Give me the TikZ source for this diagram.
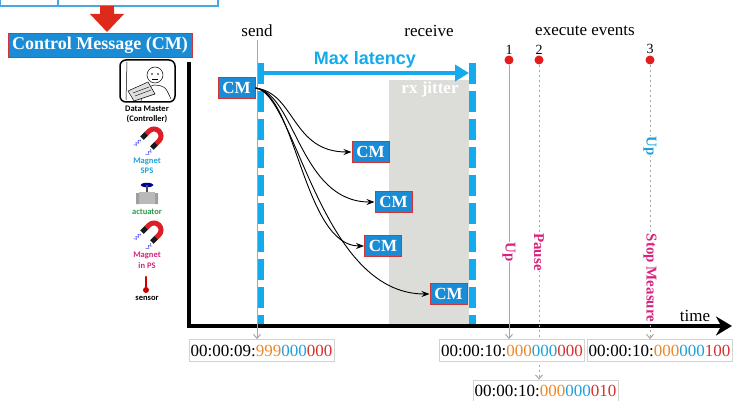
\documentclass[tikz,border=0pt]{standalone}
\usepackage{fontspec}
\setmainfont{Liberation Serif}
\newfontfamily\latfont{Liberation Sans}
\newfontfamily\iconfont{Carlito}
\usetikzlibrary{arrows.meta, decorations.pathmorphing}

\definecolor{cmblue}{RGB}{26,140,214}
\definecolor{cmred}{RGB}{208,52,52}
\definecolor{latblue}{RGB}{20,170,235}
\definecolor{jitgray}{RGB}{220,220,216}
\definecolor{evred}{RGB}{224,30,30}
\definecolor{evmag}{RGB}{214,36,124}
\definecolor{tsorange}{RGB}{232,137,43}
\definecolor{tsblue}{RGB}{30,160,220}
\definecolor{tsred}{RGB}{217,48,43}
\definecolor{actgreen}{RGB}{46,154,74}
\definecolor{topblue}{RGB}{70,168,224}
\definecolor{arrowred}{RGB}{221,42,27}
\definecolor{magred}{RGB}{220,30,40}

% time stamp: prefix, then ms / us / ns groups
\newcommand{\stamp}[4]{#1\textcolor{tsorange}{#2}\textcolor{tsblue}{#3}\textcolor{tsred}{#4}}

\begin{document}
\begin{tikzpicture}[x=1pt, y=-1pt,
    cmbox/.style={draw=cmred, line width=1pt, fill=cmblue, text=white, inner sep=0pt,
        font=\bfseries\fontsize{17}{17}\selectfont, minimum width=37, minimum height=21},
    tsbox/.style={draw=gray!35, line width=0.8pt, fill=white, inner sep=0pt,
        font=\fontsize{17}{17}\selectfont, minimum width=145, minimum height=22},
    axlabel/.style={anchor=base, inner sep=0pt, font=\fontsize{17}{17}\selectfont},
    evdot/.style={circle, fill=evred, minimum size=9, inner sep=0pt},
    evtext/.style={rotate=-90, fill=white, inner sep=0.5pt, font=\bfseries\fontsize{15}{15}\selectfont},
    iconlbl/.style={inner sep=0pt, font=\iconfont\bfseries\fontsize{8.5}{8.5}\selectfont},
    bluedash/.style={latblue, line width=7, dash pattern=on 21pt off 7pt},
    evline/.style={gray!70, line width=1, -{Straight Barb[length=4pt,width=7pt]}},
    evdots/.style={evline, dash pattern=on 2pt off 3pt},
    curve/.style={black, line width=0.9, -{Stealth[length=8pt,width=6pt]}}]
\useasboundingbox (0,0) rectangle (733,401);

% legend header and arrow down to the message box
\draw[topblue, line width=1.5] (0,-5) rectangle (218,6);
\draw[topblue, line width=1.5] (58,-5) -- (58,6);
\fill[arrowred] (100,6) -- (114,6) -- (114,14) -- (124,14) -- (107,32) -- (90,14) -- (100,14) -- cycle;
\node[draw=cmred, line width=1pt, fill=cmblue, text=white, minimum width=184, minimum height=23,
    font=\bfseries\fontsize{18}{18}\selectfont] (cmtitle) at (100,45.5) {Control Message (CM)};

% controller sketch
\draw[line width=1.5, rounded corners=6, fill=white] (120,60) rectangle (175,102);
\draw[line width=0.5] (127,62) -- (126,100);
\draw[line width=0.5] (155,75) circle (8);
\fill (152,74) circle (0.8) (158,74) circle (0.8);
\draw[line width=0.5] (152,79) -- (158,79);
\draw[line width=0.5] (141,101) .. controls (143,89) .. (154,85) .. controls (165,86) .. (171,99);
\draw[line width=0.5, fill=gray!25] (128,91) -- (148,82) -- (155,94) -- (134,101) -- cycle;
\draw[line width=0.4] (133,93) -- (149,87) (135,96) -- (151,90);
\node[iconlbl] (master) at (147,109) {Data Master};
\node[iconlbl] (ctrl) at (147,119) {(Controller)};

% magnet in SPS
\begin{scope}[shift={(154,136)}, rotate=-45]
  \draw[magred, line width=5] (-7,4) -- (-7,0) arc[start angle=180, end angle=360, radius=7] -- (7,4);
  \draw[gray!20!black, line width=5] (-7,4) -- (-7,10) (7,4) -- (7,10);
  \draw[blue!70, line width=0.6, decorate, decoration={snake, amplitude=1.2, segment length=3}]
      (-7,12) -- (-7,19) (7,12) -- (7,19);
\end{scope}
\node[iconlbl, text=tsblue] (mag1) at (147,161) {Magnet};
\node[iconlbl, text=tsblue] (sps) at (147,171) {SPS};

% actuator valve
\fill[blue!60!black] (147,185) ellipse (6.5 and 2.2);
\draw[gray!60!black, line width=1.4] (147,185) -- (147,192);
\fill[gray!55] (139,192) rectangle (155,204);
\fill[gray!75] (136,193) rectangle (139,204) (155,193) rectangle (158,204);
\node[iconlbl, text=actgreen] (act) at (147,212) {actuator};

% magnet in PS
\begin{scope}[shift={(154,230)}, rotate=-45]
  \draw[magred, line width=5] (-7,4) -- (-7,0) arc[start angle=180, end angle=360, radius=7] -- (7,4);
  \draw[gray!20!black, line width=5] (-7,4) -- (-7,10) (7,4) -- (7,10);
  \draw[blue!70, line width=0.6, decorate, decoration={snake, amplitude=1.2, segment length=3}]
      (-7,12) -- (-7,19) (7,12) -- (7,19);
\end{scope}
\node[iconlbl, text=evmag] (mag2) at (147,255) {Magnet};
\node[iconlbl, text=evmag] (inps) at (147,266) {in PS};

% sensor
\draw[red!80!black, line width=2.5, line cap=round] (146,277) -- (146,287);
\fill[red!80!black] (146,290) circle (3);
\node[iconlbl] (sensor) at (147,298) {sensor};

% jitter window and the two bus lines
\fill[jitgray] (389,80) rectangle (469,326);
\node[text=white, font=\bfseries\fontsize{17}{17}\selectfont] (jitter) at (430,89) {rx jitter};
\draw[bluedash] (260,63) -- (260,326);
\draw[bluedash] (472,63) -- (472,326);

\coordinate (lat-a) at (262,73);
\coordinate (lat-b) at (469,73);
\draw[latblue, line width=4.5, -{Triangle[length=14pt,width=16pt]}] (lat-a) -- (lat-b);
\node[text=latblue, anchor=base, font=\latfont\bfseries\fontsize{18}{18}\selectfont] (lat) at (365,65) {Max latency};

% axes
\coordinate (ytop) at (189,62);
\coordinate (origin) at (189,326);
\coordinate (xend) at (732,326);
\draw[line width=3.5, -{Stealth[length=16pt,width=19pt]}] (ytop) -- (origin) -- (xend);
\node[axlabel] (time) at (695,321) {time};

% column headings
\node[axlabel] (send) at (257,37) {send};
\node[axlabel] (recv) at (429,37) {receive};
\node[axlabel] (exec) at (585,36) {execute events};

% send time marker
\node[tsbox] (ts1) at (261.5,350.5) {\stamp{00:00:09:}{999}{000}{000}};
\draw[evline] ([yshift=-3]send.south) -- (send.south |- ts1.north);

% message copies
\node[cmbox] (src) at (236.5,88) {CM};
\node[cmbox] (cm1) at (370.5,152) {CM};
\node[cmbox] (cm2) at (393.5,202) {CM};
\node[cmbox] (cm3) at (383,246) {CM};
\node[cmbox] (cm4) at (448.5,294) {CM};
\foreach \t/\l in {cm1/60, cm2/75, cm3/60, cm4/110}
  \draw[curve] (src.east) .. controls +(40,5) and +(-\l,0) .. (\t.west);

% events and their time stamps
\node[evdot, label={[font=\fontsize{14}{14}\selectfont, inner sep=1pt]above:1}] (ev1) at (509,60) {};
\node[evdot, label={[font=\fontsize{14}{14}\selectfont, inner sep=1pt]above:2}] (ev2) at (539,60) {};
\node[evdot, label={[font=\fontsize{14}{14}\selectfont, inner sep=1pt]above:3}] (ev3) at (650,60) {};

\node[tsbox] (ts3) at (545.5,391) {\stamp{00:00:10:}{000}{000}{010}};
\node[tsbox] (ts4) at (659.5,350.5) {\stamp{00:00:10:}{000}{000}{100}};
\draw[evdots] (ev2) -- (ev2 |- ts3.north);
\draw[evdots] (ev3) -- (ev3 |- ts4.north);
\node[tsbox] (ts2) at (512,350.5) {\stamp{00:00:10:}{000}{000}{000}};
\draw[evline] (ev1) -- (ev1 |- ts2.north);

\node[evtext, text=evmag] (up1) at (509,252) {Up};
\node[evtext, text=evmag] (pause) at (539,252) {Pause};
\node[evtext, text=tsblue] (up3) at (650,146) {Up};
\node[evtext, text=evmag] (stop) at (650,278) {Stop Measure};
\end{tikzpicture}
\end{document}
